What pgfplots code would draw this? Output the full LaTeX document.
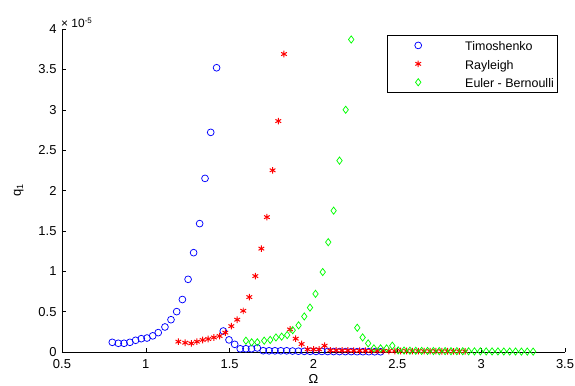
\documentclass[border=0pt]{standalone}
\usepackage{pgfplots}
\pgfplotsset{compat=1.18}
\usepackage{fontspec}
\setmainfont{Liberation Sans}
\newcommand{\lgs}{\rule[-5bp]{0pt}{17.5bp}\hspace*{19bp}}
\begin{document}
\fontsize{13}{15}\selectfont
\begin{tikzpicture}
\begin{axis}[
  name=ax,
  scale only axis,
  width=503bp, height=323bp,
  xmin=0.5, xmax=3.5, ymin=0, ymax=4,
  xtick={0.5,1,...,3.5}, ytick={0,0.5,...,4},
  xticklabels={0.5,1,1.5,2,2.5,3,3.5},
  yticklabels={0,0.5,1,1.5,2,2.5,3,3.5,4},
  axis lines*=left,
  axis line style={-, black},
  tick align=inside,
  major tick length=4bp,
  tick style={black, thin},
  tick label style={font=\fontsize{13}{15}\selectfont},
  xticklabel style={yshift=-3bp},
  yticklabel style={xshift=-1bp},
  xlabel={Ω}, ylabel={q\textsubscript{1}},
  label style={font=\fontsize{13}{15}\selectfont},
  xlabel style={yshift=3bp},
  ylabel style={yshift=6bp},
  legend style={at={(rel axis cs:1,1)}, anchor=north east, xshift=-8bp, yshift=-6bp,
     draw=black, font=\fontsize{12.5}{14}\selectfont, legend cell align=left,
     row sep=0pt, inner xsep=1pt, inner ysep=1pt},
  legend image code/.code={\path[draw=none,fill=none] (0bp,0bp) -- (56bp,0bp); \draw[#1] plot coordinates {(30bp,0bp)};},
  clip=false,
]
\addplot[only marks, blue, mark=o, mark size=3.4bp, mark options={line width=0.75pt}] coordinates {
(0.800,0.12) (0.836,0.108) (0.870,0.108) (0.905,0.12) (0.939,0.145) (0.973,0.165)
(1.007,0.173) (1.041,0.20) (1.074,0.24) (1.114,0.31) (1.150,0.40) (1.184,0.50)
(1.218,0.65) (1.252,0.90) (1.285,1.23) (1.321,1.59) (1.353,2.15) (1.387,2.72)
(1.422,3.52) (1.462,0.26) (1.496,0.15) (1.530,0.095) (1.563,0.04) (1.597,0.04)
(1.630,0.04) (1.665,0.05) (1.700,0.016) (1.735,0.015) (1.770,0.015) (1.805,0.015)
(1.840,0.015) (1.875,0.012) (1.910,0.01) (1.945,0.008) (1.980,0.008) (2.015,0.007)
(2.050,0.007) (2.085,0.006) (2.120,0.006) (2.155,0.005) (2.190,0.005) (2.225,0.005)
(2.260,0.004) (2.295,0.004) (2.330,0.004) (2.365,0.003) (2.400,0.003)
};
\addlegendentry{\lgs Timoshenko}
\addplot[only marks, red, mark=asterisk, mark size=3.3bp, mark options={line width=1pt}] coordinates {
(1.194,0.128) (1.235,0.115) (1.271,0.107) (1.305,0.128) (1.339,0.149) (1.372,0.161)
(1.406,0.18) (1.440,0.198) (1.474,0.24) (1.510,0.32) (1.545,0.40) (1.581,0.51)
(1.617,0.68) (1.653,0.94) (1.689,1.28) (1.722,1.67) (1.756,2.25) (1.790,2.86)
(1.824,3.69) (1.860,0.28) (1.894,0.165) (1.929,0.099) (1.965,0.033) (2.000,0.033)
(2.033,0.033) (2.066,0.078) (2.100,0.02) (2.135,0.02) (2.170,0.018) (2.205,0.018)
(2.240,0.016) (2.275,0.016) (2.310,0.015) (2.345,0.015) (2.380,0.014) (2.415,0.014)
(2.450,0.013) (2.485,0.013) (2.520,0.012) (2.555,0.012) (2.590,0.011) (2.625,0.011)
(2.660,0.01) (2.695,0.01) (2.730,0.01) (2.765,0.009) (2.800,0.009) (2.835,0.008)
(2.870,0.008) (2.905,0.008)
};
\addlegendentry{\lgs Rayleigh}
\addplot[only marks, green, mark=diamond, mark size=3.6bp, mark options={line width=0.75pt}] coordinates {
(1.597,0.14) (1.631,0.12) (1.665,0.12) (1.706,0.14) (1.742,0.15) (1.776,0.18)
(1.810,0.19) (1.843,0.21) (1.876,0.27) (1.911,0.33) (1.945,0.44) (1.979,0.55)
(2.012,0.72) (2.055,0.99) (2.088,1.36) (2.120,1.75) (2.155,2.37) (2.192,3.00)
(2.225,3.87) (2.261,0.30) (2.293,0.18) (2.326,0.107) (2.360,0.045) (2.400,0.045)
(2.436,0.045) (2.470,0.078) (2.505,0.02) (2.540,0.018) (2.575,0.016) (2.610,0.015)
(2.645,0.014) (2.680,0.013) (2.715,0.012) (2.750,0.011) (2.785,0.011) (2.820,0.01)
(2.855,0.01) (2.890,0.009) (2.925,0.009) (2.960,0.008) (2.995,0.008) (3.030,0.007)
(3.065,0.007) (3.100,0.007) (3.135,0.006) (3.170,0.006) (3.205,0.006) (3.240,0.005)
(3.275,0.005) (3.310,0.005)
};
\addlegendentry{\lgs Euler - Bernoulli}
\node[anchor=south west, inner sep=1bp, xshift=-2bp, font=\fontsize{12}{14}\selectfont] at (rel axis cs:0,1) {× 10\textsuperscript{-5}};
\end{axis}
\pgfresetboundingbox
\path[use as bounding box] ([xshift=-62bp,yshift=-34bp]ax.south west) rectangle ([xshift=10bp,yshift=29bp]ax.north east);
\end{tikzpicture}
\end{document}
